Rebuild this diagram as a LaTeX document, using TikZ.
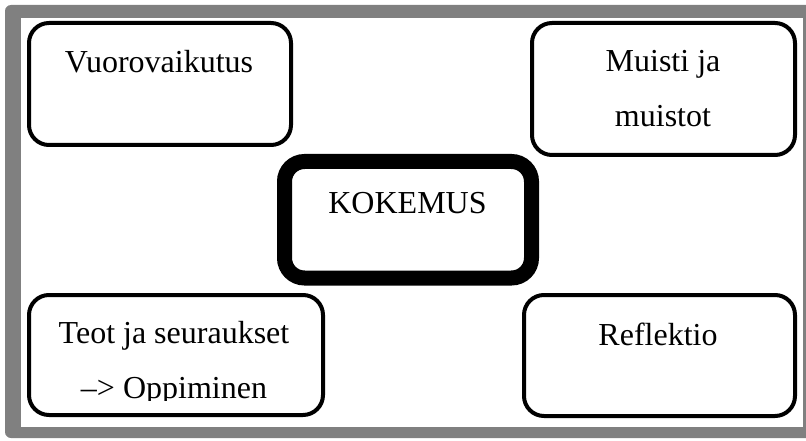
\documentclass[tikz,border=0pt]{standalone}
\usepackage{fontspec}
\setmainfont{Liberation Serif}
\begin{document}
\begin{tikzpicture}[x=1pt,y=-1pt,
  frame/.style={fill=black!50,rounded corners=6pt},
  box/.style={draw=black,line width=4pt,rounded corners=20pt,fill=white},
  mainbox/.style={draw=black,line width=15pt,rounded corners=20pt,fill=white},
  lbl/.style={anchor=base,inner sep=0pt,font=\fontsize{32}{38}\selectfont}]
\useasboundingbox (0,0) rectangle (806,441);
\begin{scope}
\clip (0,0) rectangle (806,441);
\fill[frame] (5,5) rectangle (815,438);
\fill[white] (21,18) rectangle (803,427);
\end{scope}
% boxes
\draw[box] (29,23) rectangle (291,145);
\draw[box] (532,23) rectangle (795,155);
\draw[box] (29,295) rectangle (323,415);
\draw[box] (524,295) rectangle (795,416);
\draw[mainbox] (284.5,161.5) rectangle (531.5,278);
% texts
\node[lbl] (vuoro) at (159,73) {Vuorovaikutus};
\node[lbl] (muisti1) at (663,72) {Muisti ja};
\node[lbl] (muisti2) at (663,127) {muistot};
\node[lbl] (koke) at (407.5,213) {KOKEMUS};
\node[lbl] (teot1) at (174,343) {Teot ja seuraukset};
\begin{scope}
\clip (0,0) rectangle (806,400.5);
\node[lbl] (teot2) at (174,398) {–> Oppiminen};
\end{scope}
\node[lbl] (refl) at (658,345) {Reflektio};
\end{tikzpicture}
\end{document}
